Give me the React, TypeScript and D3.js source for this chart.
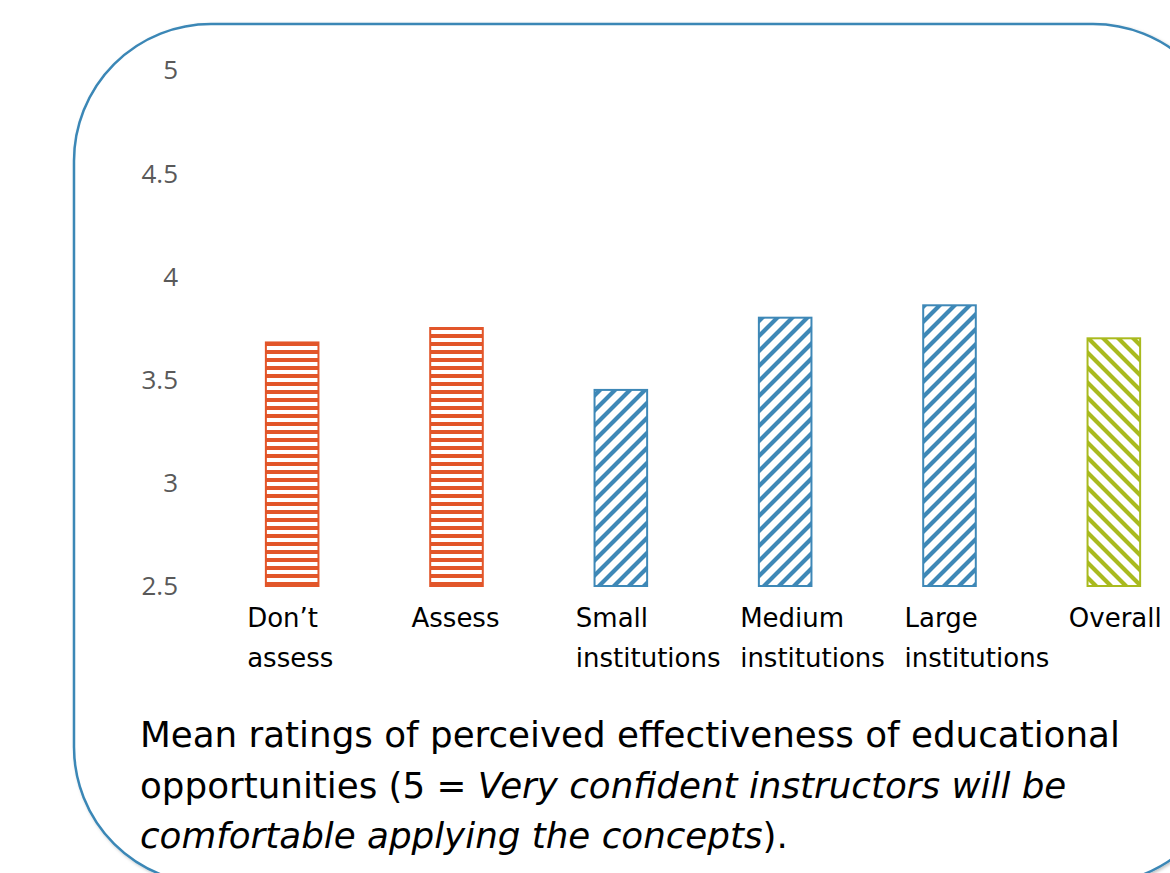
import React from "react";
import * as d3 from "d3";

const categories: string[][] = [
  ["Don\u2019t", "assess"],
  ["Assess"],
  ["Small", "institutions"],
  ["Medium", "institutions"],
  ["Large", "institutions"],
  ["Overall"],
];
const values: number[] = [3.68, 3.75, 3.45, 3.8, 3.86, 3.7];
const patterns: string[] = ["horiz", "horiz", "up", "up", "up", "down"];
const yTicks: number[] = [2.5, 3, 3.5, 4, 4.5, 5];

const W = 1170;
const H = 873;
const ORANGE = "#E2562A";
const BLUE = "#3E88B7";
const GREEN = "#A9BA1E";

export default function App() {
  const x = d3
    .scaleBand<number>()
    .domain(d3.range(values.length))
    .range([210, 1196])
    .paddingInner(0.68)
    .paddingOuter(0.34);
  const y = d3.scaleLinear().domain([2.5, 5]).range([586, 70]);

  const colorOf = (p: string) => (p === "horiz" ? ORANGE : p === "up" ? BLUE : GREEN);
  const labelX = (i: number) => x(i)! + x.bandwidth() / 2 - 45;

  return (
    <svg
      width={W}
      height={H}
      style={{ position: "absolute", left: 0, top: 0 }}
      xmlns="http://www.w3.org/2000/svg"
    >
      <defs>
        <pattern id="horiz" patternUnits="userSpaceOnUse" width={8} height={8} y={586}>
          <rect width={8} height={8} fill="#fff" />
          <rect y={4} width={8} height={4} fill={ORANGE} />
        </pattern>
        <pattern id="up" patternUnits="userSpaceOnUse" width={15} height={15}>
          <rect width={15} height={15} fill="#fff" />
          <path d="M-4,4 L4,-4 M0,15 L15,0 M11,19 L19,11" stroke={BLUE} strokeWidth={4.2} />
        </pattern>
        <pattern id="down" patternUnits="userSpaceOnUse" width={15} height={15}>
          <rect width={15} height={15} fill="#fff" />
          <path d="M-4,11 L4,19 M0,0 L15,15 M11,-4 L19,4" stroke={GREEN} strokeWidth={4.2} />
        </pattern>
        <filter id="shadow" x="-5%" y="-5%" width="110%" height="110%">
          <feDropShadow dx="1.5" dy="1.5" stdDeviation="1.5" floodColor="#000" floodOpacity="0.25" />
        </filter>
      </defs>

      <rect
        x={74}
        y={24}
        width={1156}
        height={860}
        rx={137}
        ry={137}
        fill="#fff"
        stroke="#3B87B6"
        strokeWidth={2.5}
        filter="url(#shadow)"
      />

      {yTicks.map((t) => (
        <text
          key={t}
          x={178}
          y={y(t)}
          dy="0.36em"
          textAnchor="end"
          fontFamily="'Open Sans', sans-serif"
          fontSize={26}
          fill="#595959"
        >
          {t}
        </text>
      ))}

      {values.map((v, i) => (
        <rect
          key={i}
          x={x(i)!}
          y={y(v)}
          width={x.bandwidth()}
          height={y(2.5) - y(v)}
          fill={`url(#${patterns[i]})`}
          stroke={colorOf(patterns[i])}
          strokeWidth={2}
        />
      ))}

      {categories.map((lines, i) => (
        <text
          key={i}
          x={labelX(i)}
          y={627}
          fontFamily="'DejaVu Sans', sans-serif"
          fontSize={26}
          fill="#000"
        >
          {lines.map((l, j) => (
            <tspan key={j} x={labelX(i)} y={627 + j * 40}>
              {l}
            </tspan>
          ))}
        </text>
      ))}

      <text fontFamily="'DejaVu Sans', sans-serif" fontSize={35.7} fill="#000">
        <tspan x={140} y={747}>
          Mean ratings of perceived effectiveness of educational
        </tspan>
        <tspan x={140} y={798}>
          opportunities (5 = <tspan fontStyle="italic">Very confident instructors will be</tspan>
        </tspan>
        <tspan x={140} y={848}>
          <tspan fontStyle="italic">comfortable applying the concepts</tspan>).
        </tspan>
      </text>
    </svg>
  );
}
